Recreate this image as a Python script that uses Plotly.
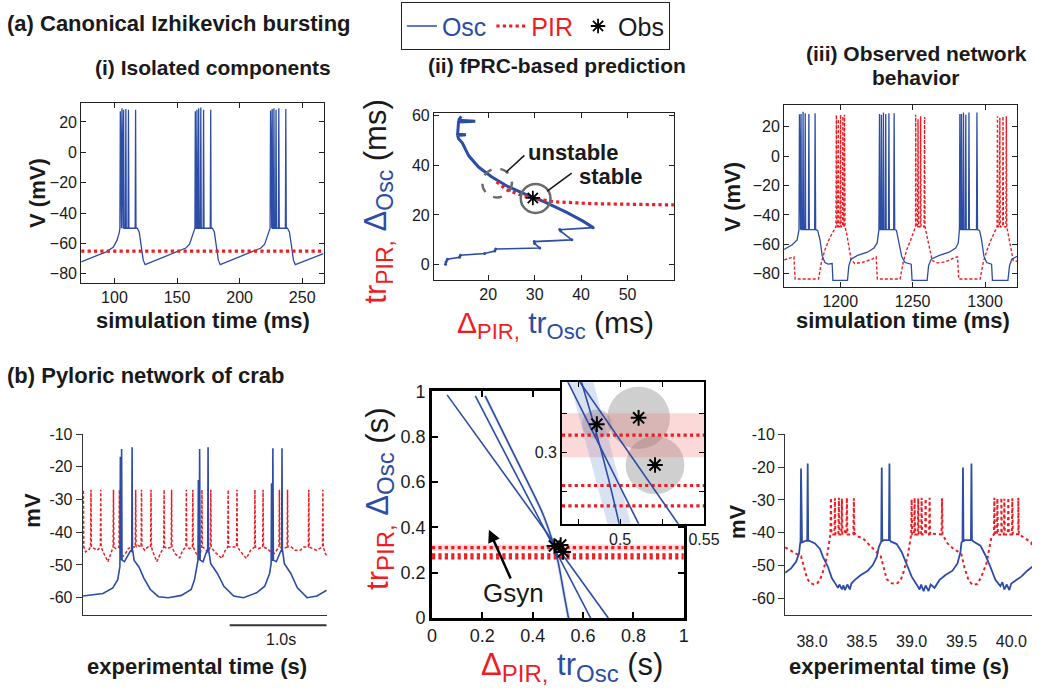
import numpy as np
import plotly.graph_objects as go

W, H = 1050, 698
BLUE = '#2c4ca6'
RED = '#ee1d23'
INK = '#1a1a1a'
FONT = 'Liberation Sans, Arial, Helvetica, sans-serif'

# ---------------- (a)(i) isolated components ----------------
ai_osc_pts = [(73.4, -72.1), (85, -68.5), (93.5, -65.5), (99.0, -62.5), (102.0, -58), (103.8, -53), (104.3, -50),
              (117.2, -50), (118.2, -50), (119.8, -52.5), (121.5, -62), (123.0, -71), (124.5, -74), (135, -70.5),
              (152, -65), (157, -63), (160, -60.5), (162.0, -56), (163.6, -51.5), (164.3, -50),
              (177.2, -50), (178.2, -50), (179.8, -52.5), (181.5, -62), (183.0, -71), (184.5, -74), (195, -70.5),
              (212, -65), (217, -63), (220, -60.5), (222.0, -56), (223.6, -51.5), (224.3, -50),
              (237.2, -50), (238.2, -50), (239.8, -52.5), (241.5, -62), (243.0, -71), (244.5, -74), (255, -70.5),
              (267, -66.7)]
ai_spk_t = [104.7, 106.0, 107.3, 109.1, 111.2, 116.9, 164.6, 165.9, 167.3, 169.0, 171.2, 176.9,
            224.7, 226.0, 227.4, 229.1, 231.3, 236.9]
ai_spk_peak = [27, 29, 28, 28.5, 28, 28, 27, 28, 29, 29.5, 28, 28, 27.5, 28.5, 29, 28, 29, 28.5]
ai_spk_foot = [-50] * 18
ai_pir_t = [73.4, 267]
ai_pir_v = [-65, -65]

# ---------------- (a)(ii) fPRC prediction ----------------
aii_osc_x = [14.2, 13.6, 17.2, 13.6, 13.4, 15.2, 13.4, 13.6, 14.4, 15.8, 17.9, 20.7, 24.2, 27.8, 32.0, 36.9, 40.4, 42.6]
aii_osc_y = [59.5, 58.0, 57.6, 57.3, 52.4, 52.1, 51.8, 50.5, 48.9, 43.7, 39.2, 35.3, 31.4, 28.4, 25.3, 21.0, 17.5, 14.9]
aii_zig_x = [42.6, 35.4, 35.6, 38.0, 29.9, 30.0, 31.1, 21.6, 21.4, 19.2, 14.0, 13.8, 11.2, 10.9, 10.8]
aii_zig_y = [14.9, 14.1, 13.5, 10.0, 9.3, 8.5, 6.7, 6.3, 5.5, 4.5, 3.8, 3.0, 2.2, 1.2, 0.25]
aii_pir_x = [21.8, 23.9, 27.1, 29.9, 34.1, 42.6, 60.0]
aii_pir_y = [33.3, 30.1, 27.9, 26.6, 25.3, 24.5, 24.0]
aii_obs_x = [29.6]
aii_obs_y = [26.8]
aii_fix_x = [30.2, 21.9]          # stable, unstable fixed points
aii_fix_y = [26.6, 32.8]
aii_fix_rx = [3.2, 3.2]
aii_fix_ry = [5.8, 5.8]

# ---------------- (a)(iii) observed network ----------------
aiii_osc_pts = [(1161.2, -63.5), (1166.8, -60.2), (1170.2, -56.9), (1171.5, -50), (1183.0, -50), (1184.4, -50.5),
                (1186.0, -57), (1187.6, -68), (1189.4, -72.3), (1191.6, -73.4), (1194.4, -73), (1194.9, -84.4),
                (1205.0, -84.4), (1205.9, -74.5), (1207.4, -70), (1212.0, -67.5), (1218.7, -65.3), (1223.3, -62.4),
                (1225.5, -59), (1226.7, -50), (1237.6, -50), (1238.8, -50.5), (1240.2, -57), (1242.4, -68),
                (1244.7, -72.3), (1249.0, -73.4), (1249.6, -84.4), (1260.0, -84.4), (1261.0, -74.5), (1262.8, -70),
                (1268.4, -67.5), (1275.2, -65.3), (1279.7, -62.4), (1281.5, -59), (1282.3, -50), (1294.8, -50),
                (1296.2, -50.5), (1297.6, -57), (1299.2, -68), (1301.1, -72.3), (1304.5, -73.4), (1305.1, -84.4),
                (1315.8, -84.4), (1316.9, -74.5), (1318.5, -70), (1322.1, -68)]
aiii_osc_spk_t = [1171.8, 1172.9, 1174.3, 1175.8, 1178.3, 1182.6, 1227.1, 1228.4, 1229.8, 1231.4, 1233.6, 1237.2,
                  1282.6, 1283.7, 1285.1, 1286.7, 1288.9, 1294.4]
aiii_osc_spk_peak = [28.4, 28.5, 30, 29, 28.5, 29, 28.5, 28, 29.5, 28.5, 29, 29,
                     28.5, 28.5, 29.5, 28, 29.5, 29.5]
aiii_osc_spk_foot = [-50] * 18
aiii_pir_pts = [(1161.2, -70.5), (1166.5, -69), (1168.0, -68.5), (1168.8, -83.5), (1185.0, -83.5), (1187.0, -72),
                (1189.5, -63.5), (1192.5, -56), (1195.5, -50), (1196.8, -48), (1203.3, -48), (1204.5, -53),
                (1206.0, -62), (1207.5, -70.5), (1210, -73), (1215, -72.3), (1222, -70), (1224.8, -68.5),
                (1225.6, -83.5), (1241.3, -83.5), (1243.5, -72), (1246, -63.5), (1249, -56), (1251.3, -50),
                (1252, -48), (1258.6, -48), (1260, -55), (1261.5, -63), (1263.5, -71), (1267, -72.5), (1272, -72),
                (1279, -69), (1281.0, -68.5), (1281.8, -83.5), (1296.6, -83.5), (1298.8, -72), (1301.5, -63.5),
                (1304.5, -56), (1307.5, -50), (1308.2, -48), (1315.0, -48), (1316.3, -55), (1317.8, -63),
                (1319.5, -71), (1322.1, -71.5)]
aiii_pir_spk_t = [1197.3, 1198.6, 1200.2, 1201.8, 1202.9, 1252.1, 1253.7, 1255.5, 1258.2,
                  1308.6, 1310.2, 1312.4, 1314.7]
aiii_pir_spk_peak = [28, 25, 28, 27, 28, 28, 25, 27, 26.5, 27, 26, 27, 27]
aiii_pir_spk_foot = [-48] * 13

# ---------------- (b)(i) crab recordings ----------------
bi_osc_pts = [(0.0, -59.5), (0.209, -58.7), (0.31, -57.0), (0.361, -54.5), (0.383, -50.5), (0.392, -48.5),
              (0.43, -49.0), (0.47, -47.0), (0.495, -45.5), (0.515, -45.5), (0.53, -48.6), (0.58, -50.6),
              (0.63, -54.0), (0.697, -57.5), (0.781, -59.7), (0.883, -60.0), (1.017, -59.3), (1.118, -57.5),
              (1.152, -54.5), (1.186, -49.6), (1.21, -48.5), (1.24, -49.0), (1.265, -47.0), (1.282, -45.5),
              (1.298, -45.5), (1.32, -49.6), (1.388, -52.6), (1.455, -56.5), (1.556, -59.5), (1.657, -60.0),
              (1.792, -58.5), (1.876, -56.5), (1.926, -52.6), (1.942, -49.6), (1.965, -48.5), (1.995, -49.0),
              (2.025, -47.0), (2.045, -45.5), (2.06, -45.5), (2.078, -49.6), (2.145, -52.6), (2.212, -57.0),
              (2.313, -60.0), (2.414, -59.5), (2.515, -57.7)]
bi_osc_spk_t = [0.388, 0.401, 0.509, 1.192, 1.205, 1.292, 1.946, 1.960, 2.054]
bi_osc_spk_peak = [-16.9, -14.5, -14.0, -24.0, -14.5, -14.0, -25.0, -14.3, -14.3]
bi_osc_spk_foot = [-48.5, -48.5, -46.0, -48.5, -48.5, -46.0, -48.5, -48.5, -46.0]
bi_pir_pts = [(0.0, -44.0), (0.03, -46.0), (0.06, -45.5), (0.11, -44.8), (0.15, -45.5), (0.21, -46.0),
              (0.26, -49.0), (0.29, -46.5), (0.34, -45.0), (0.41, -47.5), (0.44, -46.5), (0.47, -45.0),
              (0.50, -44.5), (0.57, -44.0), (0.64, -45.5), (0.67, -44.5), (0.73, -46.5), (0.764, -49.0),
              (0.80, -46.5), (0.87, -45.0), (0.95, -46.5), (0.999, -47.8), (1.03, -45.5), (1.10, -45.0),
              (1.17, -46.5), (1.20, -48.3), (1.26, -45.0), (1.29, -46.0), (1.36, -46.0), (1.40, -47.0),
              (1.434, -48.0), (1.47, -45.5), (1.54, -44.5), (1.63, -46.0), (1.687, -48.0), (1.73, -45.5),
              (1.81, -45.0), (1.90, -45.0), (1.94, -46.0), (1.973, -46.5), (2.07, -45.0), (2.15, -44.5),
              (2.19, -45.5), (2.242, -45.5), (2.28, -44.5), (2.37, -45.0), (2.41, -45.5), (2.44, -45.0),
              (2.50, -46.5), (2.515, -47.0)]
bi_pir_spk_t = [0.007, 0.085, 0.186, 0.317, 0.378, 0.546, 0.606, 0.704, 0.839, 0.916, 1.068, 1.135, 1.229,
                1.320, 1.499, 1.590, 1.775, 1.859, 2.027, 2.111, 2.330, 2.475]
bi_pir_spk_peak = [-27.0] * 22
bi_pir_spk_foot = [-44.5] * 22
bi_scale_s = 1.0

# ---------------- (b)(ii) fPRC prediction for crab ----------------
bii_osc_lines = {
    'A': ([0.06, 0.70], [0.985, 0.0]),
    'B': ([0.172, 0.63], [0.98, 0.0]),
}
bii_osc_curve_x = [0.211, 0.30, 0.38, 0.44, 0.477, 0.4994, 0.525, 0.542]
bii_osc_curve_y = [0.98, 0.78, 0.60, 0.46, 0.3446, 0.2546, 0.10, 0.0]
bii_osc_band = 0.007
bii_pir_tr = [0.311, 0.279, 0.266]
bii_pir_band = [0.297, 0.325]
bii_obs_x = [0.4861, 0.511, 0.5208]
bii_obs_y = [0.318, 0.322, 0.292]
bii_obs_rx = [0.0088, 0.0187, 0.0175]
bii_obs_ry = [0.0093, 0.0198, 0.0185]
bii_gsyn_tail = (0.315, 0.168)
bii_gsyn_head = (0.226, 0.39)
inset_xr = [0.4653, 0.55]
inset_yr = [0.2546, 0.3446]

# ---------------- (b)(iii) crab network ----------------
biii_osc_pts = [(37.73, -52.1), (37.79, -50.8), (37.84, -48.8), (37.87, -46.3), (37.882, -43.0), (37.90, -42.9),
                (37.94, -42.4), (37.97, -42.4), (38.03, -43.2), (38.08, -44.9), (38.11, -47.3), (38.16, -50.3),
                (38.20, -53.8), (38.23, -55.2), (38.26, -56.7), (38.275, -55.7), (38.30, -57.2), (38.315, -55.9),
                (38.33, -57.4), (38.355, -55.7), (38.38, -57.2), (38.395, -55.4), (38.43, -54.3), (38.49, -52.8),
                (38.56, -51.5), (38.61, -49.8), (38.65, -47.3), (38.67, -44.4), (38.69, -42.9), (38.72, -42.2),
                (38.79, -42.6), (38.85, -43.4), (38.90, -45.8), (38.95, -49.3), (39.00, -53.3), (39.05, -55.7),
                (39.08, -57.2), (39.095, -55.7), (39.12, -57.7), (39.14, -56.0), (39.17, -57.7), (39.19, -55.7),
                (39.23, -56.7), (39.28, -54.3), (39.34, -52.8), (39.41, -51.5), (39.46, -49.3), (39.49, -45.8),
                (39.50, -42.9), (39.53, -42.2), (39.62, -42.6), (39.69, -43.9), (39.74, -46.8), (39.79, -50.3),
                (39.84, -54.3), (39.89, -56.2), (39.91, -55.0), (39.93, -57.2), (39.955, -55.7), (39.98, -57.4),
                (40.00, -55.4), (40.05, -54.3), (40.10, -53.3), (40.16, -51.5), (40.21, -50.3)]
biii_osc_spk_t = [37.89, 37.957, 38.70, 38.777, 39.515, 39.60]
biii_osc_spk_peak = [-20.4, -18.9, -20.1, -18.9, -20.1, -18.9]
biii_osc_spk_foot = [-42.8, -42.4, -42.6, -42.2, -42.6, -42.2]
biii_pir_pts = [(37.73, -44.4), (37.79, -45.3), (37.84, -46.3), (37.89, -47.1), (37.92, -50.3), (37.95, -53.8),
                (37.98, -55.2), (38.02, -55.7), (38.05, -55.4), (38.08, -54.3), (38.11, -51.8), (38.15, -47.3),
                (38.18, -41.4), (38.25, -40.5), (38.33, -39.5), (38.43, -40.2), (38.46, -41.1), (38.51, -41.6),
                (38.56, -43.2), (38.61, -44.6), (38.66, -46.1), (38.69, -47.1), (38.72, -50.6), (38.75, -54.1),
                (38.80, -55.3), (38.85, -55.5), (38.89, -54.3), (38.92, -51.8), (38.96, -47.1), (38.99, -41.4),
                (39.08, -40.6), (39.2, -40.2), (39.31, -40.4), (39.36, -43.2), (39.41, -44.6), (39.46, -45.6),
                (39.50, -46.6), (39.53, -50.6), (39.57, -54.3), (39.61, -55.8), (39.66, -55.5), (39.70, -53.3),
                (39.75, -49.3), (39.80, -41.4), (39.9, -40.6), (40.07, -40.4), (40.10, -40.9), (40.15, -41.9),
                (40.20, -42.9), (40.21, -44.4)]
biii_pir_spk_t = [38.19, 38.23, 38.27, 38.30, 38.35, 38.42, 39.00, 39.03, 39.066, 39.10, 39.14, 39.18, 39.305,
                  39.83, 39.86, 39.90, 39.93, 39.97, 40.01, 40.07]
biii_pir_spk_peak = [-29.3, -29.5, -29.3, -29.6, -29.3, -29.5, -29.8, -29.3, -29.5, -29.3, -29.6, -29.3, -29.5,
                     -29.3, -29.5, -29.3, -29.6, -29.3, -29.5, -29.3]
biii_pir_spk_foot = [-40.5] * 20


def spiky(slow_pts, spk_t, spk_peak, spk_foot, w):
    pts = list(slow_pts)
    for t, p, f in zip(spk_t, spk_peak, spk_foot):
        pts += [(t - w, f), (t, p), (t + w, f)]
    pts.sort(key=lambda q: q[0])
    return [q[0] for q in pts], [q[1] for q in pts]


def X(px):
    return px / W


def Y(py):
    return 1 - py / H


fig = go.Figure()

# (a)(i)
t, v = spiky(ai_osc_pts, ai_spk_t, ai_spk_peak, ai_spk_foot, 0.35)
fig.add_trace(go.Scatter(x=t, y=v, mode='lines', line=dict(color=BLUE, width=1.3),
                         name="<span style='color:%s'>Osc</span>" % BLUE, legendrank=1, xaxis='x', yaxis='y'))
fig.add_trace(go.Scatter(x=ai_pir_t, y=ai_pir_v, mode='lines', line=dict(color=RED, width=3.2, dash='dot'),
                         name="<span style='color:%s'>PIR</span>" % RED, legendrank=2, xaxis='x', yaxis='y'))

# (a)(ii)
fig.add_trace(go.Scatter(x=aii_osc_x, y=aii_osc_y, mode='lines', line=dict(color=BLUE, width=3),
                         showlegend=False, xaxis='x2', yaxis='y2'))
fig.add_trace(go.Scatter(x=aii_zig_x, y=aii_zig_y, mode='lines+markers', line=dict(color=BLUE, width=1.6),
                         marker=dict(size=3, color=BLUE), showlegend=False, xaxis='x2', yaxis='y2'))
fig.add_trace(go.Scatter(x=aii_pir_x, y=aii_pir_y, mode='lines', line=dict(color=RED, width=3.2, dash='dot'),
                         showlegend=False, xaxis='x2', yaxis='y2'))
fig.add_trace(go.Scatter(x=aii_obs_x, y=aii_obs_y, mode='markers',
                         marker=dict(symbol='asterisk-open', size=12, color='black', line=dict(width=1.8, color='black')),
                         name='Obs', legendrank=3, xaxis='x2', yaxis='y2'))

# (a)(iii)
t, v = spiky(aiii_pir_pts, aiii_pir_spk_t, aiii_pir_spk_peak, aiii_pir_spk_foot, 0.3)
fig.add_trace(go.Scatter(x=t, y=v, mode='lines', line=dict(color=RED, width=1.4, dash='3px,2px'),
                         showlegend=False, xaxis='x3', yaxis='y3'))
t, v = spiky(aiii_osc_pts, aiii_osc_spk_t, aiii_osc_spk_peak, aiii_osc_spk_foot, 0.3)
fig.add_trace(go.Scatter(x=t, y=v, mode='lines', line=dict(color=BLUE, width=1.3),
                         showlegend=False, xaxis='x3', yaxis='y3'))

# (b)(i)
t, v = spiky(bi_pir_pts, bi_pir_spk_t, bi_pir_spk_peak, bi_pir_spk_foot, 0.004)
fig.add_trace(go.Scatter(x=t, y=v, mode='lines', line=dict(color=RED, width=1.5, dash='3px,2px'),
                         showlegend=False, xaxis='x4', yaxis='y4'))
t, v = spiky(bi_osc_pts, bi_osc_spk_t, bi_osc_spk_peak, bi_osc_spk_foot, 0.004)
fig.add_trace(go.Scatter(x=t, y=v, mode='lines', line=dict(color=BLUE, width=1.6),
                         showlegend=False, xaxis='x4', yaxis='y4'))

# (b)(ii) main + inset share the same data
cx = np.array(bii_osc_curve_x)
cy = np.array(bii_osc_curve_y)
band_x = list(cx + bii_osc_band) + list((cx - bii_osc_band)[::-1])
band_y = list(cy) + list(cy[::-1])
for xa, ya in (('x5', 'y5'), ('x6', 'y6')):
    xr = [0, 1] if xa == 'x5' else inset_xr
    fig.add_trace(go.Scatter(x=[xr[0], xr[1], xr[1], xr[0]],
                             y=[bii_pir_band[0], bii_pir_band[0], bii_pir_band[1], bii_pir_band[1]],
                             fill='toself', fillcolor='rgba(240,120,120,0.28)', line=dict(width=0), mode='lines',
                             showlegend=False, hoverinfo='skip', xaxis=xa, yaxis=ya))
    fig.add_trace(go.Scatter(x=band_x, y=band_y, fill='toself', fillcolor='rgba(120,150,210,0.28)',
                             line=dict(width=0), mode='lines', showlegend=False, hoverinfo='skip',
                             xaxis=xa, yaxis=ya))
    for tr in bii_pir_tr:
        fig.add_trace(go.Scatter(x=xr, y=[tr, tr], mode='lines', line=dict(color=RED, width=3.2, dash='dot'),
                                 showlegend=False, xaxis=xa, yaxis=ya))
    for key, (lx, ly) in bii_osc_lines.items():
        fig.add_trace(go.Scatter(x=lx, y=ly, mode='lines', line=dict(color=BLUE, width=1.6),
                                 showlegend=False, xaxis=xa, yaxis=ya))
    fig.add_trace(go.Scatter(x=bii_osc_curve_x, y=bii_osc_curve_y, mode='lines',
                             line=dict(color=BLUE, width=1.6, shape='spline'),
                             showlegend=False, xaxis=xa, yaxis=ya))
    fig.add_trace(go.Scatter(x=bii_obs_x, y=bii_obs_y, mode='markers',
                             marker=dict(symbol='asterisk-open', size=13, color='black',
                                         line=dict(width=2, color='black')),
                             showlegend=False, xaxis=xa, yaxis=ya))

# (b)(iii)
t, v = spiky(biii_pir_pts, biii_pir_spk_t, biii_pir_spk_peak, biii_pir_spk_foot, 0.005)
fig.add_trace(go.Scatter(x=t, y=v, mode='lines', line=dict(color=RED, width=2, dash='dot'),
                         showlegend=False, xaxis='x7', yaxis='y7'))
t, v = spiky(biii_osc_pts, biii_osc_spk_t, biii_osc_spk_peak, biii_osc_spk_foot, 0.005)
fig.add_trace(go.Scatter(x=t, y=v, mode='lines', line=dict(color=BLUE, width=1.8),
                         showlegend=False, xaxis='x7', yaxis='y7'))


def dom_x(p0, p1):
    return [X(p0), X(p1)]


def dom_y(p_top, p_bot):
    return [Y(p_bot), Y(p_top)]


matlab = dict(showline=True, linecolor='#222', linewidth=1, mirror='ticks', ticks='inside', ticklen=5,
              tickcolor='#222', showgrid=False, zeroline=False, tickfont=dict(size=16, color=INK, family=FONT))
igor = dict(showline=True, linecolor='#333', linewidth=1, mirror=False, ticks='outside', ticklen=6,
            tickcolor='#333', showgrid=False, zeroline=False, tickfont=dict(size=16, color=INK, family=FONT))
bold_box = dict(showline=True, linecolor='black', linewidth=2.5, mirror='ticks', ticks='inside', ticklen=6,
                tickwidth=2, tickcolor='black', showgrid=False, zeroline=False,
                tickfont=dict(size=18, color=INK, family=FONT))
inset_box = dict(showline=True, linecolor='black', linewidth=1.5, mirror='ticks', ticks='inside', ticklen=5,
                 tickcolor='black', showgrid=False, zeroline=False, tickfont=dict(size=16, color=INK, family=FONT))

mv_ticks = [-60, -50, -40, -30, -20, -10]
mv_text = ['-60', '-50', '-40', '-30', '-20', '-10']

fig.update_layout(
    width=W, height=H, margin=dict(l=0, r=0, t=0, b=0),
    paper_bgcolor='white', plot_bgcolor='white',
    font=dict(family=FONT, color=INK),
    xaxis=dict(matlab, domain=dom_x(77.7, 325), range=[73.4, 267], tickvals=[100, 150, 200, 250], anchor='y'),
    yaxis=dict(matlab, domain=dom_y(96, 281), range=[-86, 32.3], tickvals=[-80, -60, -40, -20, 0, 20], anchor='x'),
    xaxis2=dict(matlab, domain=dom_x(437.7, 682.6), range=[8.3, 60], tickvals=[20, 30, 40, 50], anchor='y2'),
    yaxis2=dict(matlab, domain=dom_y(105.7, 277.7), range=[-6, 61], tickvals=[0, 20, 40, 60], anchor='x2'),
    xaxis3=dict(matlab, domain=dom_x(795, 1032.7), range=[1161.2, 1322.1], tickvals=[1200, 1250, 1300], anchor='y3'),
    yaxis3=dict(matlab, domain=dom_y(98.3, 285), range=[-88.8, 34.3], tickvals=[-80, -60, -40, -20, 0, 20], anchor='x3'),
    xaxis4=dict(igor, domain=dom_x(79.3, 328.3), range=[0, 2.515], ticks='', showticklabels=False, anchor='y4'),
    yaxis4=dict(igor, domain=dom_y(436.7, 622.7), range=[-65.25, -10], tickvals=mv_ticks, ticktext=mv_text, anchor='x4'),
    xaxis5=dict(bold_box, domain=dom_x(435.7, 692.7), range=[0, 1], tickvals=[0, 0.2, 0.4, 0.6, 0.8, 1],
                ticktext=['0', '0.2', '0.4', '0.6', '0.8', '1'], anchor='y5'),
    yaxis5=dict(bold_box, domain=dom_y(392.7, 626), range=[0, 1], tickvals=[0, 0.2, 0.4, 0.6, 0.8, 1],
                ticktext=['0', '0.2', '0.4', '0.6', '0.8', '1'], anchor='x5'),
    xaxis6=dict(inset_box, domain=dom_x(568.3, 713.3), range=inset_xr, tickvals=[0.475, 0.5, 0.525, 0.55],
                ticktext=['', '0.5', '', '0.55'], anchor='y6'),
    yaxis6=dict(inset_box, domain=dom_y(383.3, 529), range=inset_yr, tickvals=[0.275, 0.3, 0.325],
                ticktext=['', '0.3', ''], anchor='x6'),
    xaxis7=dict(igor, domain=dom_x(796, 1048), range=[37.73, 40.208], tickvals=[38, 38.5, 39, 39.5, 40],
                ticktext=['38.0', '38.5', '39.0', '39.5', '40.0'], ticklen=11, tickcolor='rgba(0,0,0,0)',
                anchor='y7'),
    yaxis7=dict(igor, domain=dom_y(436.7, 623.3), range=[-65.1, -10], tickvals=mv_ticks, ticktext=mv_text, anchor='x7'),
    legend=dict(x=X(404), y=1.0 + 8 / H, xanchor='left', yanchor='top', orientation='h', bordercolor='#222',
                borderwidth=1, bgcolor='white', font=dict(size=25, family=FONT), itemwidth=30, tracegroupgap=0,
                traceorder='normal'),
    showlegend=True,
)

shapes = []
# (a)(ii) fixed point circles
for i, (x0, y0, rx, ry) in enumerate(zip(aii_fix_x, aii_fix_y, aii_fix_rx, aii_fix_ry)):
    shapes.append(dict(type='circle', xref='x2', yref='y2', x0=x0 - rx, x1=x0 + rx, y0=y0 - ry, y1=y0 + ry,
                       line=dict(color='#6b6b6b', width=2.5, dash='solid' if i == 0 else 'dash'), layer='above'))
# inset white background + observation spread circles
shapes.append(dict(type='rect', xref='x6', yref='y6', x0=inset_xr[0], x1=inset_xr[1], y0=inset_yr[0],
                   y1=inset_yr[1], fillcolor='white', line=dict(width=0), layer='below'))
for x0, y0, rx, ry in zip(bii_obs_x, bii_obs_y, bii_obs_rx, bii_obs_ry):
    shapes.append(dict(type='circle', xref='x6', yref='y6', x0=x0 - rx, x1=x0 + rx, y0=y0 - ry, y1=y0 + ry,
                       fillcolor='rgba(110,110,110,0.33)', line=dict(width=0), layer='below'))
# (b)(i) scale bar
shapes.append(dict(type='line', xref='x4', yref='paper', x0=2.515 - bi_scale_s, x1=2.515, y0=Y(633.3), y1=Y(633.3),
                   line=dict(color='#333', width=2)))
fig.update_layout(shapes=shapes)

ann = []


def txt(text, px, py, size, angle=0, xanchor='center', color=INK):
    ann.append(dict(text=text, x=X(px), y=Y(py), xref='paper', yref='paper', showarrow=False, textangle=angle,
                    xanchor=xanchor, yanchor='middle', font=dict(size=size, family=FONT, color=color)))


txt('<b>(a) Canonical Izhikevich bursting</b>', 0, 14, 22, xanchor='left')
txt('<b>(i) Isolated components</b>', 212, 59, 21)
txt('<b>(ii) fPRC-based prediction</b>', 563, 57, 21)
txt('<b>(iii) Observed network</b>', 930, 45, 21)
txt('<b>behavior</b>', 930, 70, 21)
txt('<b>(b) Pyloric network of crab</b>', 0, 376, 22, xanchor='left')

txt('<b>V (mV)</b>', 33, 188, 22, angle=-90)
txt('<b>simulation time (ms)</b>', 202, 320, 22)
txt('<b>V (mV)</b>', 742, 192, 22, angle=-90)
txt('<b>simulation time (ms)</b>', 916, 320, 22)
txt('<b>mV</b>', 28, 515, 22, angle=-90)
txt('<b>experimental time (s)</b>', 196, 676, 22)
txt('<b>mV</b>', 748, 527, 22, angle=-90)
txt('<b>experimental time (s)</b>', 912, 676, 22)
txt('1.0s', 282, 648, 16)


def mathlab(first, first_sub, second, second_sub, unit, sub_px):
    s = "<span style='font-size:%dpx'>%s</span>"
    return ("<span style='color:%s'>%s<sub>%s</sub></span> <span style='color:%s'>%s<sub>%s</sub></span> %s"
            % (RED, first, s % (sub_px, first_sub), BLUE, second, s % (sub_px, second_sub), unit))


txt(mathlab('tr', 'PIR,', 'Δ', 'Osc', '(ms)', 23), 381, 197, 31, angle=-90)
txt(mathlab('Δ', 'PIR,', 'tr', 'Osc', '(ms)', 22), 562, 324, 30)
txt(mathlab('tr', 'PIR,', 'Δ', 'Osc', '(s)', 24), 382, 503, 31, angle=-90)
txt(mathlab('Δ', 'PIR,', 'tr', 'Osc', '(s)', 24), 579, 676, 31)

txt('<b>unstable</b>', 580, 147, 22)
txt('<b>stable</b>', 618, 171, 22)
txt('Gsyn', 519, 600, 26)

# pointer lines in (a)(ii) and Gsyn arrow in (b)(ii)
ann.append(dict(text='', xref='x2', yref='y2', axref='x2', ayref='y2', x=23.9, y=37.2, ax=28.1, ay=44.4,
                showarrow=True, arrowhead=0, arrowwidth=1.6, arrowcolor=INK))
ann.append(dict(text='', xref='x2', yref='y2', axref='x2', ayref='y2', x=32.7, y=29.5, ax=38.3, ay=37.2,
                showarrow=True, arrowhead=0, arrowwidth=1.6, arrowcolor=INK))
ann.append(dict(text='', xref='x5', yref='y5', axref='x5', ayref='y5', x=bii_gsyn_head[0], y=bii_gsyn_head[1],
                ax=bii_gsyn_tail[0], ay=bii_gsyn_tail[1], showarrow=True, arrowhead=2, arrowsize=1,
                arrowwidth=2.5, arrowcolor='black'))
fig.update_layout(annotations=ann)

fig.write_html('out.html', config={'displayModeBar': False},
               post_script="document.body.style.margin='0px';document.body.style.overflow='hidden';")
